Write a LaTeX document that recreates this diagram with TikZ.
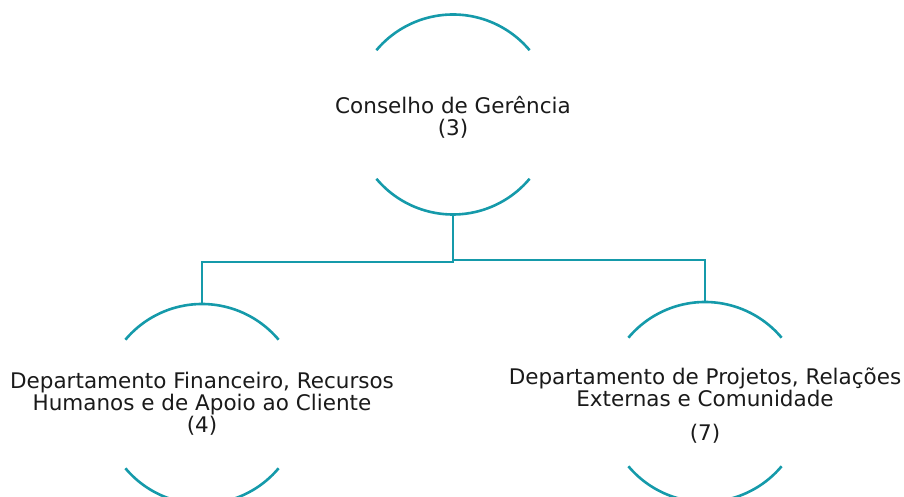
\documentclass[tikz,border=0pt]{standalone}
\usepackage{fontspec}
\setmainfont{DejaVu Sans}
\usetikzlibrary{calc}

\definecolor{tealline}{RGB}{21,154,170}
\definecolor{textgray}{RGB}{26,26,26}

\tikzset{
  unit/.style={circle, draw=none, minimum size=200pt, inner sep=0pt, outer sep=0pt},
  arcline/.style={draw=tealline, line width=2.6pt},
  link/.style={draw=tealline, line width=2.6pt},
  unittext/.style={align=center, text=textgray, font=\fontsize{21.5}{22}\selectfont, inner sep=0pt}
}

\begin{document}
\begin{tikzpicture}[x=1pt,y=1pt]

\useasboundingbox (0,0) rectangle (904,497);

% the three units
\node[unit] (cg) at (453,382.5) {};
\node[unit] (dfr) at (202,93) {};
\node[unit] (dpr) at (705,95) {};

\foreach \u in {cg, dfr, dpr} {
  \draw[arcline] (\u.40) arc[start angle=40, end angle=140, radius=100pt];
  \draw[arcline] (\u.220) arc[start angle=220, end angle=320, radius=100pt];
}

\node[unittext] (cgtext) at (453,380) {Conselho de Gerência\\(3)};
\node[unittext] (dfrtext) at (202,93) {Departamento Financeiro, Recursos\\Humanos e de Apoio ao Cliente\\(4)};
\node[unittext] (dprtext) at (705,110) {Departamento de Projetos, Relações\\Externas e Comunidade};
\node[unittext] (dprnum) at (705,63) {(7)};

% connectors
\coordinate (jl) at (0,235);
\coordinate (jr) at (0,237);
\draw[link] (cg.south) -- (cg.south |- jl) -| (dfr.north);
\draw[link] (cg.south |- jr) -| (dpr.north);

\end{tikzpicture}
\end{document}
